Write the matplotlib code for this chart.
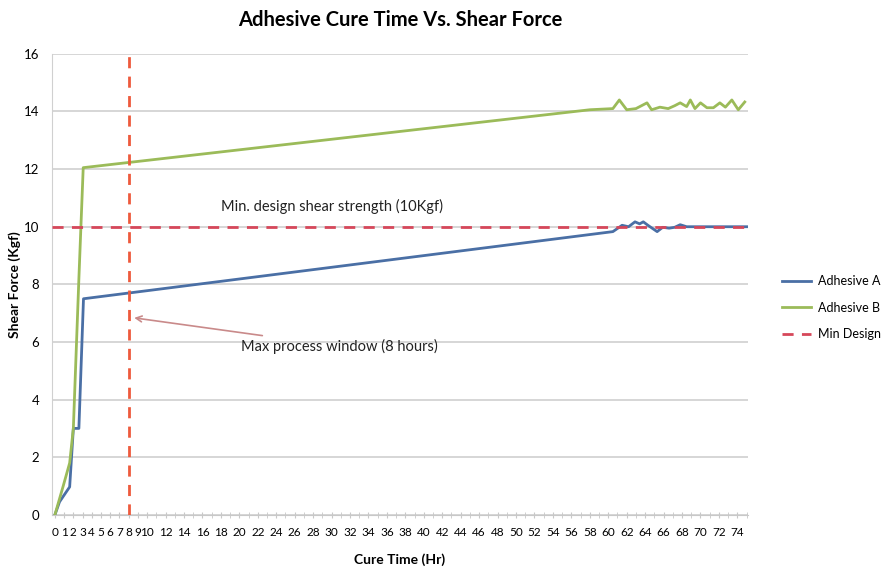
import numpy as np
import matplotlib.pyplot as plt

plt.rcParams['font.family'] = ['Lato', 'DejaVu Sans']

# data
hours_a = [0, 0.5, 1.6, 2.0, 2.6, 3.1, 60.5, 61.5, 62.2, 62.9, 63.4, 63.8, 64.3, 65.3, 65.9, 66.6, 67.2, 67.8, 68.5, 75]
force_a = [0, 0.45, 0.97, 3.0, 3.0, 7.5, 9.83, 10.05, 10.0, 10.17, 10.1, 10.17, 10.05, 9.83, 9.98, 9.95, 9.98, 10.07, 10.0, 10.0]

hours_b = [0, 0.9, 1.6, 2.0, 2.6, 3.07, 58.0, 60.5, 61.2, 62.0, 63.0, 64.2, 64.7, 65.6, 66.5, 67.2, 67.8, 68.5, 68.9,
           69.4, 70.0, 70.7, 71.4, 72.1, 72.7, 73.4, 74.1, 74.8]
force_b = [0, 1.0, 1.8, 3.0, 8.2, 12.05, 14.06, 14.1, 14.4, 14.06, 14.1, 14.3, 14.06, 14.15, 14.1, 14.2, 14.3, 14.17, 14.4,
           14.1, 14.3, 14.13, 14.13, 14.3, 14.15, 14.4, 14.06, 14.33]

min_design = 10
max_window = 8

x_ticks = list(range(0, 11)) + list(range(12, 75, 2))
y_ticks = list(range(0, 17, 2))

fig = plt.figure(figsize=(8.91, 5.67), dpi=100)
ax = fig.add_axes([0.058, 0.092, 0.782, 0.813])

for y in y_ticks:
    ax.axhline(y, color='#d0d0d0', lw=1.2, zorder=0)

ax.plot(hours_a, force_a, color='#4a6fa5', lw=2, label='Adhesive A', zorder=3)
ax.plot(hours_b, force_b, color='#9bbb59', lw=2, label='Adhesive B', zorder=3)
ax.axhline(min_design, color='#d6475a', lw=2, ls=(0, (4, 3)), label='Min Design', zorder=4)
ax.axvline(max_window, color='#ee5a3c', lw=2, ls=(0, (4, 3)), zorder=4)

ax.text(18, 10.55, 'Min. design shear strength (10Kgf)', fontsize=10.5, color='#222222')
ax.annotate('Max process window (8 hours)', xy=(8.3, 6.85), xytext=(20.2, 5.85),
            fontsize=10.5, color='#222222', va='center',
            arrowprops=dict(arrowstyle='->', color='#c98a8a', lw=1.2))

ax.set_xlim(-0.35, 75.2)
ax.set_ylim(0, 16)
ax.set_xticks(x_ticks)
ax.set_xticks(range(0, 76), minor=True)
ax.set_yticks(y_ticks)
ax.tick_params(axis='x', which='both', direction='inout', length=5, color='#c8c8c8', labelsize=8.5, pad=6)
ax.tick_params(axis='y', length=0, labelsize=9.5, pad=9)

for s in ['top', 'right']:
    ax.spines[s].set_visible(False)
ax.spines['left'].set_color('#d0d0d0')
ax.spines['bottom'].set_color('#c8c8c8')

ax.set_title('Adhesive Cure Time Vs. Shear Force', fontsize=14.5, fontweight='bold', pad=20)
ax.set_xlabel('Cure Time (Hr)', fontsize=10, fontweight='bold', labelpad=11)
ax.set_ylabel('Shear Force (Kgf)', fontsize=10, fontweight='bold', labelpad=2)

ax.legend(loc='center left', bbox_to_anchor=(1.032, 0.449), frameon=False, fontsize=9,
          handlelength=2.3, handletextpad=0.6, labelspacing=1.15)

fig.savefig('out.png', dpi=100)
